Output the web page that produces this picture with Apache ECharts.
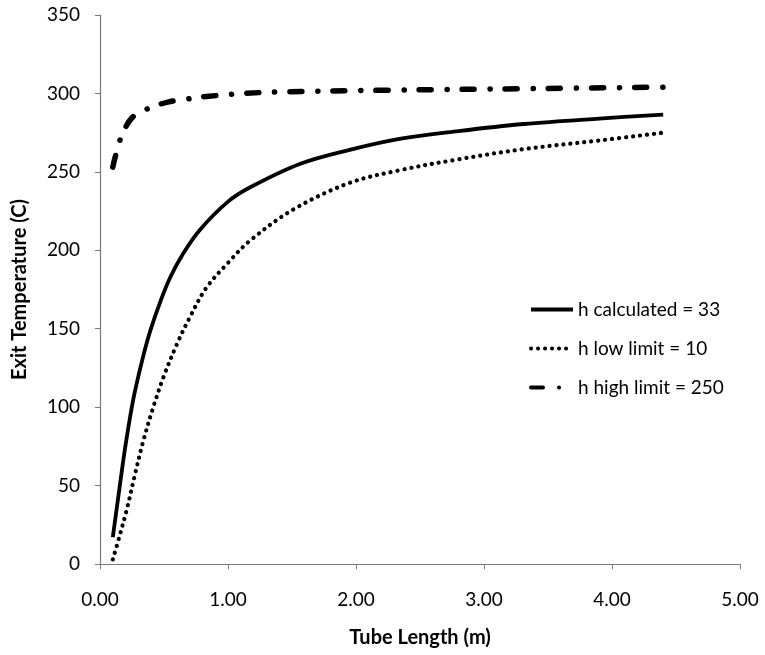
<!DOCTYPE html>
<html>
<head>
<meta charset="utf-8">
<script src="https://cdn.jsdelivr.net/npm/echarts@6/dist/echarts.min.js"></script>
<style>
html,body{margin:0;padding:0;background:#fff;}
#chart{width:765px;height:655px;}
</style>
</head>
<body>
<div id="chart"></div>
<script>
// Data
const calcX = [0.1, 0.15, 0.2, 0.26, 0.33, 0.39, 0.47, 0.55, 0.65, 0.78, 1.0, 1.17, 1.56, 1.95, 2.34, 2.8, 3.31, 3.9, 4.4];
const calcY = [17, 47, 76, 105, 130, 148, 167, 183, 198, 213, 231, 240, 255, 264, 271, 276, 280.5, 284, 286.5];

const lowX = [0.1, 0.15, 0.21, 0.27, 0.34, 0.42, 0.5, 0.6, 0.7, 0.83, 1.0, 1.17, 1.51, 1.95, 2.34, 2.8, 3.31, 3.9, 4.4];
const lowY = [3, 17, 35, 56, 79, 101, 120, 140, 157, 176, 192, 206, 226, 243, 251, 258, 264.5, 270, 275];

const highX = [0.1, 0.12, 0.165, 0.25, 0.38, 0.53, 0.68, 0.83, 1.12, 1.43, 2.19, 3.3, 4.4];
const highY = [253, 260, 272, 284.5, 290.5, 294.5, 296.4, 298, 300, 301, 302, 303, 304];

const seriesNames = ['h calculated = 33', 'h low limit = 10', 'h high limit = 250'];
const xTicks = {min: 0, max: 5, interval: 1};
const yTicks = {min: 0, max: 350, interval: 50};

function pairs(xs, ys) { return xs.map((x, i) => [x, ys[i]]); }

const FONT = 'Lato';
const chart = echarts.init(document.getElementById('chart'), null, {renderer: 'canvas'});
chart.setOption({
  animation: false,
  backgroundColor: '#ffffff',
  grid: {left: 100, right: 25, top: 15, bottom: 91, containLabel: false},
  legend: {
    orient: 'vertical',
    left: 524,
    top: 295,
    itemWidth: 42,
    itemHeight: 14,
    itemGap: 20,
    itemStyle: {opacity: 0},
    lineStyle: {width: 4},
    textStyle: {fontFamily: FONT, fontSize: 19, color: '#000'},
    data: seriesNames
  },
  xAxis: {
    type: 'value',
    min: xTicks.min, max: xTicks.max, interval: xTicks.interval,
    name: 'Tube Length (m)',
    nameLocation: 'middle',
    nameGap: 64,
    nameTextStyle: {fontFamily: FONT, fontSize: 20, fontWeight: 'bold', color: '#000'},
    axisLine: {lineStyle: {color: '#7a7a7a', width: 1.2}},
    axisTick: {show: true, length: 5, lineStyle: {color: '#7a7a7a'}},
    splitLine: {show: false},
    axisLabel: {fontFamily: FONT, fontSize: 19, color: '#000', margin: 26,
      formatter: v => v.toFixed(2)}
  },
  yAxis: {
    type: 'value',
    min: yTicks.min, max: yTicks.max, interval: yTicks.interval,
    name: 'Exit Temperature (C)',
    nameLocation: 'middle',
    nameGap: 70,
    nameTextStyle: {fontFamily: FONT, fontSize: 20, fontWeight: 'bold', color: '#000'},
    axisLine: {show: true, lineStyle: {color: '#7a7a7a', width: 1.2}},
    axisTick: {show: true, length: 5, lineStyle: {color: '#7a7a7a'}},
    splitLine: {show: false},
    axisLabel: {fontFamily: FONT, fontSize: 19, color: '#000', margin: 20}
  },
  series: [
    {
      name: seriesNames[0], type: 'line', smooth: 0.35, showSymbol: false, symbol: 'none',
      data: pairs(calcX, calcY),
      lineStyle: {color: '#000', width: 3.8, type: 'solid'},
      itemStyle: {color: '#000'}
    },
    {
      name: seriesNames[1], type: 'line', smooth: 0.35, showSymbol: false, symbol: 'none',
      data: pairs(lowX, lowY),
      lineStyle: {color: '#000', width: 4.2, type: [0.1, 6.9], cap: 'round'},
      itemStyle: {color: '#000'}
    },
    {
      name: seriesNames[2], type: 'line', smooth: 0.35, showSymbol: false, symbol: 'none',
      data: pairs(highX, highY),
      lineStyle: {color: '#000', width: 5.5, type: [12, 16, 0.1, 15], cap: 'round'},
      itemStyle: {color: '#000'}
    }
  ]
});
</script>
</body>
</html>
